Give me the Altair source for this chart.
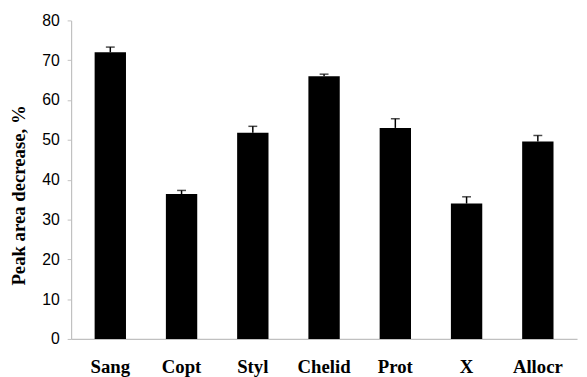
import altair as alt
import pandas as pd

categories = ["Sang", "Copt", "Styl", "Chelid", "Prot", "X", "Allocr"]
values = [72.0, 36.4, 51.8, 66.0, 53.0, 34.0, 49.6]
errors = [1.3, 0.9, 1.6, 0.5, 2.3, 1.7, 1.5]

df = pd.DataFrame({"cat": categories, "val": values, "err": errors})
df["top"] = df["val"] + df["err"]

xenc = alt.X("cat:N", sort=categories, title=None,
             scale=alt.Scale(paddingInner=0.56, paddingOuter=0.33),
             axis=alt.Axis(labelAngle=0, labelFont="Liberation Serif", labelFontWeight="bold",
                           labelFontSize=19, labelColor="black", labelPadding=19,
                           ticks=False, tickSize=0, domainColor="#c0c0c0", domainWidth=1.2))
yscale = alt.Scale(domain=[0, 80], nice=False)
yaxis = alt.Axis(values=[0, 10, 20, 30, 40, 50, 60, 70, 80], grid=False,
                 tickSize=4, tickColor="#c0c0c0", domainColor="#c0c0c0", domainWidth=1.2,
                 labelFont="Liberation Sans", labelFontSize=16, labelColor="black", labelPadding=8,
                 title="Peak area decrease, %", titleFont="Liberation Serif", titleFontWeight="bold",
                 titleFontSize=19, titleColor="black", titleX=-43, titleY=177, titleBaseline="bottom")

base = alt.Chart(df)
bars = base.mark_bar(color="black").encode(
    x=xenc, y=alt.Y("val:Q", scale=yscale, axis=yaxis))
rules = base.mark_rule(color="black", strokeWidth=1.5).encode(
    x=alt.X("cat:N", sort=categories), y="val:Q", y2="top:Q")
caps = base.mark_tick(color="black", size=9, thickness=1.5, orient="horizontal").encode(
    x=alt.X("cat:N", sort=categories), y="top:Q")

chart = alt.layer(bars, rules, caps).properties(
    width=513, height=323,
    autosize=alt.AutoSizeParams(type="none"),
    padding={"left": 64, "top": 10, "right": 2, "bottom": 36},
).configure_view(stroke=None)

chart.save("out.html", embed_options={"renderer": "svg", "actions": False})
